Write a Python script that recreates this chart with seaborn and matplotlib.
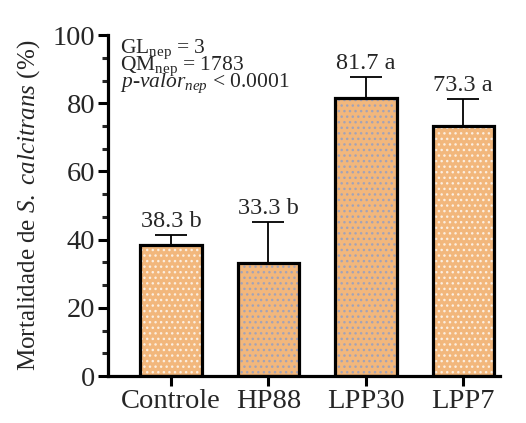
import matplotlib
matplotlib.use("Agg")
import matplotlib.pyplot as plt
from matplotlib.patches import Rectangle
from matplotlib.ticker import AutoMinorLocator
import pandas as pd
import seaborn as sns

# dados
grupos = ["Controle", "HP88", "LPP30", "LPP7"]
mortalidade = [38.3, 33.3, 81.7, 73.3]
erro = [3.0, 11.9, 6.0, 7.9]
letras = ["b", "b", "a", "a"]
cor_pontos = ["#fbeee0", "#a3a3b8", "#a3a3b8", "#fbeee0"]

df = pd.DataFrame({"grupo": grupos, "mort": mortalidade})

sns.set_style("ticks")
plt.rcParams["font.family"] = ["Liberation Serif", "DejaVu Serif"]
plt.rcParams["mathtext.fontset"] = "custom"
plt.rcParams["mathtext.rm"] = "Liberation Serif"
plt.rcParams["mathtext.it"] = "Liberation Serif:italic"

fig = plt.figure(figsize=(5.26, 4.23), dpi=100)
ax = fig.add_axes([0.205, 0.111, 0.746, 0.806])

sns.barplot(data=df, x="grupo", y="mort", color="#f2b77c", errorbar=None,
            width=0.63, saturation=1, ax=ax)

# pontilhado + contorno preto
for p, c in zip(ax.patches, cor_pontos):
    p.set_hatch("...")
    p.set_edgecolor(c)
    p.set_linewidth(0)
    ax.add_patch(Rectangle(p.get_xy(), p.get_width(), p.get_height(),
                           fill=False, edgecolor="black", linewidth=2.3, zorder=3))

x = range(len(grupos))
ax.errorbar(x, mortalidade, yerr=[[0] * 4, erro], fmt="none", ecolor="black",
            elinewidth=1.3, capsize=11.5, capthick=1.3, zorder=2)

for i in x:
    ax.text(i, mortalidade[i] + erro[i] + 1.0, f"{mortalidade[i]} {letras[i]}",
            ha="center", va="bottom", fontsize=17.5)

# estatisticas
linhas = [r"GL$_{\rm nep}$ = 3", r"QM$_{\rm nep}$ = 1783",
          r"$p$-$valor_{nep}$ < 0.0001"]
for k, t in enumerate(linhas):
    ax.text(0.03, 0.947 - k * 0.05, t, transform=ax.transAxes,
            ha="left", va="baseline", fontsize=15.5)

ax.set_ylim(0, 100)
ax.set_xlim(-0.65, 3.38)
ax.set_yticks([0, 20, 40, 60, 80, 100])
ax.yaxis.set_minor_locator(AutoMinorLocator(3))
ax.set_xlabel("")
ax.set_ylabel(r"Mortalidade de $\it{S.\ calcitrans}$ (%)", fontsize=18, labelpad=8)
ax.tick_params(axis="both", which="major", labelsize=20.5, width=2.2, length=7,
               color="black", pad=2)
ax.tick_params(axis="y", which="minor", width=2.2, length=4)
sns.despine(ax=ax)
for s in ["left", "bottom"]:
    ax.spines[s].set_linewidth(2.3)
    ax.spines[s].set_color("black")

fig.savefig("out.png", dpi=100)
